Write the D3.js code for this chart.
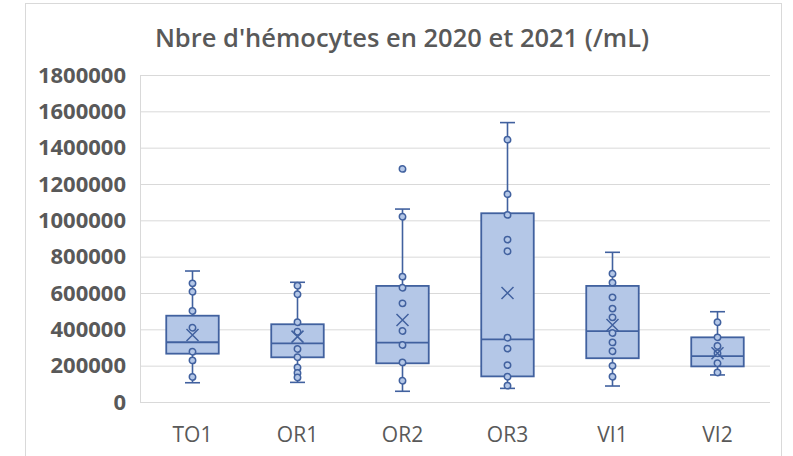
<!DOCTYPE html>
<html>
<head>
<meta charset="utf-8">
<script src="https://cdn.jsdelivr.net/npm/d3@7"></script>
<style>
  html, body { margin: 0; padding: 0; background: #ffffff; }
  svg { display: block; }
</style>
</head>
<body>
<svg id="chart" width="793" height="456"></svg>
<script>
// Hemocyte counts per site, 2020 and 2021 (cells / mL)
const categories = ["TO1", "OR1", "OR2", "OR3", "VI1", "VI2"];
const whiskerLow  = [106000, 108000,   59000,   75000,  88000, 149000];
const q1          = [266000, 246000,  213000,  141000, 241000, 196000];
const median      = [329000, 323000,  327000,  345000, 390000, 253000];
const q3          = [475000, 428000,  639000, 1039000, 639000, 356000];
const whiskerHigh = [721000, 659000, 1062000, 1538000, 824000, 497000];
const means       = [369000, 360000,  451000,  600000, 424000, 268000];
const innerPoints = [
  [653000, 607000, 501000, 409000, 277000, 229000, 138000],
  [640000, 593000, 439000, 387000, 292000, 246000, 190000, 160000, 135000],
  [1020000, 690000, 629000, 543000, 391000, 314000, 218000, 117000],
  [1444000, 1144000, 1030000, 894000, 830000, 354000, 294000, 203000, 139000, 90000],
  [706000, 657000, 576000, 514000, 466000, 380000, 328000, 279000, 199000, 139000],
  [439000, 356000, 308000, 268000, 213000, 162000]
];
const outliers = [[], [], [1283000], [], [], []];
const yTicks = [0, 200000, 400000, 600000, 800000, 1000000, 1200000, 1400000, 1600000, 1800000];
const title = "Nbre d'hémocytes en 2020 et 2021 (/mL)";

const plot = { left: 140, right: 770, top: 75, bottom: 402 };
const textColor = "#595959";
const gridColor = "#d9d9d9";
const boxFill = "#b4c7e7";
const boxStroke = "#41619f";
const font = "'Open Sans', 'Liberation Sans', sans-serif";

const svg = d3.select("#chart");

// outer chart frame
svg.append("rect")
  .attr("x", 25.5).attr("y", 3.5)
  .attr("width", 756).attr("height", 470)
  .attr("fill", "#ffffff")
  .attr("stroke", gridColor).attr("stroke-width", 1);

const x = d3.scaleBand().domain(categories).range([plot.left, plot.right]);
const y = d3.scaleLinear().domain([0, 1800000]).range([plot.bottom, plot.top]);

// horizontal gridlines
const grid = svg.append("g")
  .attr("transform", `translate(${plot.left},0)`)
  .call(d3.axisLeft(y).tickValues(yTicks).tickSize(-(plot.right - plot.left)).tickFormat(""));
grid.select(".domain").attr("stroke", gridColor).attr("stroke-width", 1);
grid.selectAll(".tick line").attr("stroke", gridColor).attr("stroke-width", 1);

// y axis labels
const yAxis = svg.append("g")
  .attr("transform", `translate(${plot.left},0)`)
  .call(d3.axisLeft(y).tickValues(yTicks).tickSize(0).tickPadding(14).tickFormat(d3.format("d")));
yAxis.select(".domain").remove();
yAxis.selectAll("text")
  .attr("fill", textColor)
  .style("font-family", font)
  .style("font-size", "22px")
  .style("font-weight", "700");

// x axis labels
const xAxis = svg.append("g")
  .attr("transform", `translate(0,${plot.bottom})`)
  .call(d3.axisBottom(x).tickSize(0).tickPadding(25));
xAxis.select(".domain").remove();
xAxis.selectAll("text")
  .attr("fill", textColor)
  .style("font-family", font)
  .style("font-size", "21px");

// title
svg.append("text")
  .attr("x", 402).attr("y", 47)
  .attr("text-anchor", "middle")
  .attr("fill", textColor)
  .style("font-family", font)
  .style("font-size", "25.5px")
  .style("font-weight", "600")
  .text(title);

// box plots
const boxW = x.bandwidth() * 0.5;
const capW = 15;
const series = categories.map((c, i) => ({
  cat: c,
  lo: whiskerLow[i], q1: q1[i], med: median[i], q3: q3[i], hi: whiskerHigh[i],
  mean: means[i], pts: innerPoints[i], out: outliers[i]
}));

const g = svg.append("g");
const groups = g.selectAll("g.box").data(series).join("g")
  .attr("class", "box")
  .attr("transform", d => `translate(${x(d.cat) + x.bandwidth() / 2},0)`);

// whiskers
groups.append("line")
  .attr("x1", 0).attr("x2", 0)
  .attr("y1", d => y(d.hi)).attr("y2", d => y(d.q3))
  .attr("stroke", boxStroke).attr("stroke-width", 1.6);
groups.append("line")
  .attr("x1", 0).attr("x2", 0)
  .attr("y1", d => y(d.q1)).attr("y2", d => y(d.lo))
  .attr("stroke", boxStroke).attr("stroke-width", 1.6);
groups.append("line")
  .attr("x1", -capW / 2).attr("x2", capW / 2)
  .attr("y1", d => y(d.hi)).attr("y2", d => y(d.hi))
  .attr("stroke", boxStroke).attr("stroke-width", 1.6);
groups.append("line")
  .attr("x1", -capW / 2).attr("x2", capW / 2)
  .attr("y1", d => y(d.lo)).attr("y2", d => y(d.lo))
  .attr("stroke", boxStroke).attr("stroke-width", 1.6);

// box
groups.append("rect")
  .attr("x", -boxW / 2).attr("width", boxW)
  .attr("y", d => y(d.q3)).attr("height", d => y(d.q1) - y(d.q3))
  .attr("fill", boxFill).attr("stroke", boxStroke).attr("stroke-width", 1.8);

// median
groups.append("line")
  .attr("x1", -boxW / 2).attr("x2", boxW / 2)
  .attr("y1", d => y(d.med)).attr("y2", d => y(d.med))
  .attr("stroke", boxStroke).attr("stroke-width", 1.8);

// inner points and outliers
groups.selectAll("circle.pt").data(d => d.pts.concat(d.out)).join("circle")
  .attr("class", "pt")
  .attr("cx", 0).attr("cy", v => y(v)).attr("r", 3.2)
  .attr("fill", boxFill).attr("stroke", boxStroke).attr("stroke-width", 1.5);

// mean marker
const m = 6;
groups.append("path")
  .attr("d", d => {
    const cy = y(d.mean);
    return `M${-m},${cy - m}L${m},${cy + m}M${-m},${cy + m}L${m},${cy - m}`;
  })
  .attr("fill", "none").attr("stroke", boxStroke).attr("stroke-width", 1.5);
</script>
</body>
</html>
